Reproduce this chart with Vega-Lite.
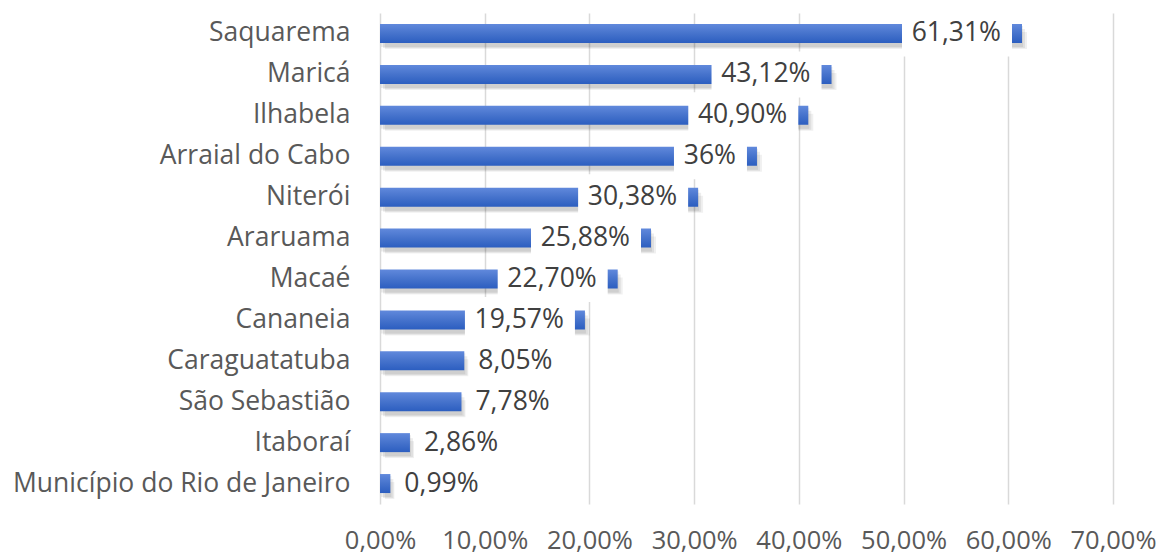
{
  "$schema": "https://vega.github.io/schema/vega-lite/v6.json",
  "autosize": "none",
  "width": 733,
  "height": 491,
  "padding": {"left": 380, "top": 13, "right": 48, "bottom": 50},
  "background": "white",
  "config": {
    "view": {"stroke": null},
    "font": "Open Sans"
  },
  "data": {
    "values": [
      {"municipio": "Saquarema", "valor": 61.31, "rotulo": "61,31%"},
      {"municipio": "Maricá", "valor": 43.12, "rotulo": "43,12%"},
      {"municipio": "Ilhabela", "valor": 40.90, "rotulo": "40,90%"},
      {"municipio": "Arraial do Cabo", "valor": 36, "rotulo": "36%"},
      {"municipio": "Niterói", "valor": 30.38, "rotulo": "30,38%"},
      {"municipio": "Araruama", "valor": 25.88, "rotulo": "25,88%"},
      {"municipio": "Macaé", "valor": 22.70, "rotulo": "22,70%"},
      {"municipio": "Cananeia", "valor": 19.57, "rotulo": "19,57%"},
      {"municipio": "Caraguatatuba", "valor": 8.05, "rotulo": "8,05%"},
      {"municipio": "São Sebastião", "valor": 7.78, "rotulo": "7,78%"},
      {"municipio": "Itaboraí", "valor": 2.86, "rotulo": "2,86%"},
      {"municipio": "Município do Rio de Janeiro", "valor": 0.99, "rotulo": "0,99%"}
    ]
  },
  "encoding": {
    "y": {
      "field": "municipio",
      "type": "nominal",
      "sort": null,
      "scale": {"paddingInner": 0, "paddingOuter": 0},
      "axis": {
        "title": null,
        "domain": false,
        "ticks": false,
        "labelPadding": 30,
        "labelFontSize": 26.5,
        "labelColor": "#595959",
        "labelFont": "Open Sans",
        "labelLimit": 400
      }
    },
    "x": {
      "field": "valor",
      "type": "quantitative",
      "scale": {"domain": [0, 70], "nice": false},
      "axis": {
        "title": null,
        "values": [0, 10, 20, 30, 40, 50, 60, 70],
        "domain": false,
        "ticks": false,
        "grid": true,
        "gridColor": "#d9d9d9",
        "gridWidth": 1.5,
        "labelExpr": "replace(format(datum.value, '.2f'), '.', ',') + '%'",
        "labelFontSize": 25.5,
        "labelColor": "#595959",
        "labelFont": "Open Sans",
        "labelPadding": 24,
        "labelFlush": false
      }
    }
  },
  "layer": [
    {"mark": {"type": "bar", "size": 21, "color": "#000000", "opacity": 0.07, "xOffset": 1, "yOffset": 3}},
    {"mark": {"type": "bar", "size": 19, "color": "#000000", "opacity": 0.07, "xOffset": 3, "yOffset": 5}},
    {"mark": {"type": "bar", "size": 17, "color": "#000000", "opacity": 0.06, "xOffset": 5, "yOffset": 7}},
    {
      "mark": {
        "type": "bar",
        "size": 19,
        "color": {
          "gradient": "linear",
          "x1": 0, "y1": 0, "x2": 0, "y2": 1,
          "stops": [
            {"offset": 0, "color": "#6189dc"},
            {"offset": 0.5, "color": "#4673cc"},
            {"offset": 1, "color": "#2c5ec0"}
          ]
        }
      }
    },
    {
      "transform": [{"filter": "datum.valor >= 12 && length(datum.rotulo) > 4"}],
      "mark": {"type": "bar", "size": 46, "color": "white", "xOffset": -10, "x2Offset": -120},
      "encoding": {"x2": {"field": "valor"}}
    },
    {
      "transform": [{"filter": "datum.valor >= 12 && length(datum.rotulo) <= 4"}],
      "mark": {"type": "bar", "size": 46, "color": "white", "xOffset": -10, "x2Offset": -83},
      "encoding": {"x2": {"field": "valor"}}
    },
    {
      "transform": [{"filter": "datum.valor < 12"}],
      "mark": {"type": "bar", "size": 46, "color": "white", "xOffset": 100, "x2Offset": 4},
      "encoding": {"x2": {"field": "valor"}}
    },
    {
      "transform": [{"filter": "datum.valor >= 12"}],
      "mark": {"type": "text", "align": "right", "baseline": "middle", "xOffset": -21, "fontSize": 26.5, "color": "#404040", "font": "Open Sans"},
      "encoding": {"text": {"field": "rotulo"}}
    },
    {
      "transform": [{"filter": "datum.valor < 12"}],
      "mark": {"type": "text", "align": "left", "baseline": "middle", "xOffset": 14, "fontSize": 26.5, "color": "#404040", "font": "Open Sans"},
      "encoding": {"text": {"field": "rotulo"}}
    }
  ]
}
